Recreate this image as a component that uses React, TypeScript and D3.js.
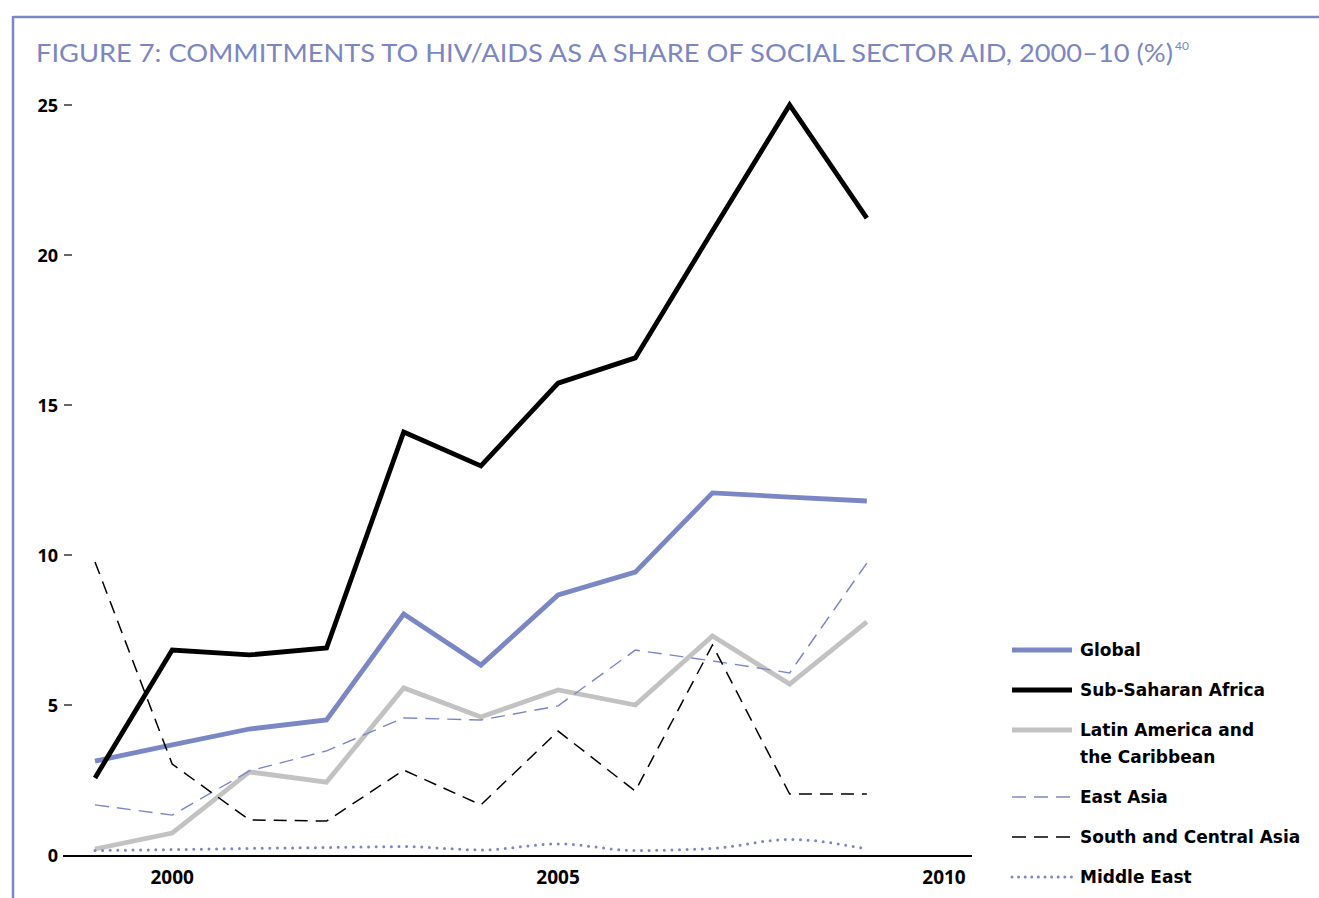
import React from "react";
import * as d3 from "d3";

const years = [1999, 2000, 2001, 2002, 2003, 2004, 2005, 2006, 2007, 2008, 2009];
const global = [3.13, 3.67, 4.2, 4.5, 8.03, 6.33, 8.67, 9.43, 12.07, 11.93, 11.8];
const subSaharanAfrica = [2.57, 6.83, 6.67, 6.9, 14.1, 12.97, 15.73, 16.57, 20.8, 25.0, 21.23];
const latinAmerica = [0.2, 0.73, 2.77, 2.43, 5.57, 4.6, 5.5, 5.0, 7.3, 5.7, 7.77];
const eastAsia = [1.67, 1.33, 2.8, 3.47, 4.57, 4.5, 4.97, 6.83, 6.47, 6.07, 9.73];
const southCentralAsia = [9.77, 3.03, 1.17, 1.13, 2.83, 1.67, 4.13, 2.13, 7.0, 2.03, 2.03];
const middleEast = [0.15, 0.18, 0.22, 0.25, 0.28, 0.17, 0.37, 0.15, 0.22, 0.52, 0.2];
const yTicks = [0, 5, 10, 15, 20, 25];
const xTicks = [2000, 2005, 2010];

const BLUE = "#7b86c4";
const GREY = "#c2c2c2";
const BOLD_FONT = "'Open Sans', Lato, sans-serif";
const LEGEND_FONT = "'DejaVu Sans', 'Open Sans', sans-serif";

const seriesList = [
  { name: ["Global"], values: global, color: BLUE, width: 4.8, dash: null, legendDash: null, cap: "butt", curve: d3.curveLinear },
  { name: ["Sub-Saharan Africa"], values: subSaharanAfrica, color: "#000", width: 4.8, dash: null, legendDash: null, cap: "butt", curve: d3.curveLinear },
  { name: ["Latin America and", "the Caribbean"], values: latinAmerica, color: GREY, width: 4.8, dash: null, legendDash: null, cap: "butt", curve: d3.curveLinear },
  { name: ["East Asia"], values: eastAsia, color: BLUE, width: 1.4, dash: "14,8", legendDash: "14,8", cap: "butt", curve: d3.curveLinear },
  { name: ["South and Central Asia"], values: southCentralAsia, color: "#000", width: 1.5, dash: "13,8", legendDash: "14,8", cap: "butt", curve: d3.curveLinear },
  { name: ["Middle East"], values: middleEast, color: BLUE, width: 3, dash: "0,7.6", legendDash: "0,6.6", cap: "round", curve: d3.curveMonotoneX },
];

export default function App() {
  const W = 1319, H = 898;
  const x = d3.scaleLinear().domain([1999, 2010]).range([95, 944]);
  const y = d3.scaleLinear().domain([0, 25]).range([855, 105]);

  const legendX1 = 1012, legendX2 = 1072, legendText = 1080;
  const legendY = [650, 690, 730, 797, 837, 877];

  return (
    <svg width={W} height={H} style={{ position: "absolute", left: 0, top: 0, background: "#fff" }}>
      <rect x={0} y={0} width={W} height={H} fill="#fff" />
      {/* frame */}
      <line x1={13} y1={17} x2={W} y2={17} stroke={BLUE} strokeWidth={2.5} />
      <line x1={13} y1={16} x2={13} y2={H} stroke={BLUE} strokeWidth={2.5} />
      {/* title */}
      <text x={36} y={62} fill={BLUE} fontFamily="Lato, 'Open Sans', sans-serif" fontSize={24.5} textLength={1137} lengthAdjust="spacingAndGlyphs">
        FIGURE 7: COMMITMENTS TO HIV/AIDS AS A SHARE OF SOCIAL SECTOR AID, 2000–10 (%)
      </text>
      <text x={1175} y={50} fill={BLUE} fontFamily="Lato, 'Open Sans', sans-serif" fontSize={12}>40</text>

      {/* y ticks */}
      {yTicks.map((t) => (
        <g key={t}>
          {t !== 0 && <line x1={64} x2={72} y1={y(t)} y2={y(t)} stroke="#000" strokeWidth={1.2} />}
          <text x={58} y={y(t) + 7} textAnchor="end" fontFamily={BOLD_FONT} fontWeight={700} fontSize={18} fill="#000">
            {t}
          </text>
        </g>
      ))}
      {/* x axis */}
      <line x1={63} x2={972} y1={856} y2={856} stroke="#000" strokeWidth={2} />
      {xTicks.map((t) => (
        <text key={t} x={x(t)} y={884} textAnchor="middle" fontFamily={BOLD_FONT} fontWeight={700} fontSize={19} fill="#000">
          {t}
        </text>
      ))}

      {/* lines */}
      {seriesList.map((s, i) => {
        const gen = d3.line<number>().x((_, j) => x(years[j])).y((v) => y(v)).curve(s.curve);
        return (
          <path key={i} d={gen(s.values) || ""} fill="none" stroke={s.color} strokeWidth={s.width}
            strokeDasharray={s.dash || undefined} strokeLinecap={s.cap as any} strokeLinejoin="miter" />
        );
      })}

      {/* legend */}
      {seriesList.map((s, i) => (
        <g key={i}>
          <line x1={legendX1} x2={legendX2} y1={legendY[i]} y2={legendY[i]} stroke={s.color} strokeWidth={s.width}
            strokeDasharray={s.legendDash || undefined} strokeLinecap={s.cap as any} />
          {s.name.map((n, k) => (
            <text key={k} x={legendText} y={legendY[i] + 6 + k * 27} fontFamily={LEGEND_FONT} fontWeight={700} fontSize={17} fill="#000">
              {n}
            </text>
          ))}
        </g>
      ))}
    </svg>
  );
}
